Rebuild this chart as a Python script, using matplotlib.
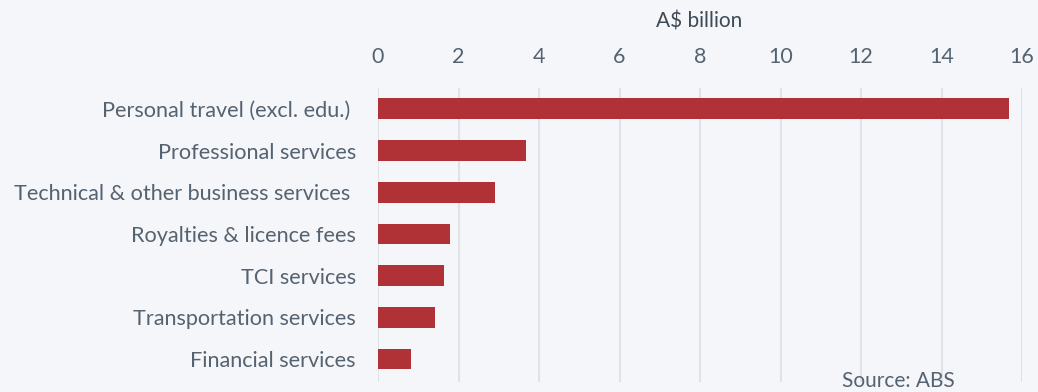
import matplotlib.pyplot as plt

# Services exports by category, A$ billion
categories = [
    "Personal travel (excl. edu.) ",
    "Professional services",
    "Technical & other business services ",
    "Royalties & licence fees",
    "TCI services",
    "Transportation services",
    "Financial services",
]
values = [15.68, 3.68, 2.91, 1.79, 1.63, 1.42, 0.82]
x_ticks = [0, 2, 4, 6, 8, 10, 12, 14, 16]

bg = "#F5F6FA"
text_col = "#556270"
bar_col = "#B03236"
grid_col = "#DFE2E7"

plt.rcParams["font.family"] = ["Lato", "DejaVu Sans"]

fig = plt.figure(figsize=(10.38, 3.92), dpi=100, facecolor=bg)
ax = fig.add_axes([0.3642, 0.0255, 0.6204, 0.75])
ax.set_facecolor(bg)

ypos = range(len(categories))
ax.barh(ypos, values, height=0.5, color=bar_col, zorder=3)

ax.set_ylim(6.55, -0.5)
ax.set_xlim(0, 16)
ax.set_xticks(x_ticks)
ax.xaxis.tick_top()
ax.tick_params(axis="x", length=0, pad=15, labelsize=15.5, labelcolor=text_col)
ax.set_yticks(list(ypos))
ax.set_yticklabels(categories)
ax.tick_params(axis="y", length=0, pad=16, labelsize=15.6, labelcolor=text_col)

ax.grid(axis="x", color=grid_col, linewidth=1.5, zorder=0)
for s in ax.spines.values():
    s.set_visible(False)

fig.text(0.674, 0.945, "A$ billion", ha="center", va="center",
         fontsize=15, color="#3E4A55")
fig.text(0.92, 0.028, "Source: ABS", ha="right", va="center",
         fontsize=15, color=text_col)

fig.savefig("out.png", dpi=100, facecolor=bg)
